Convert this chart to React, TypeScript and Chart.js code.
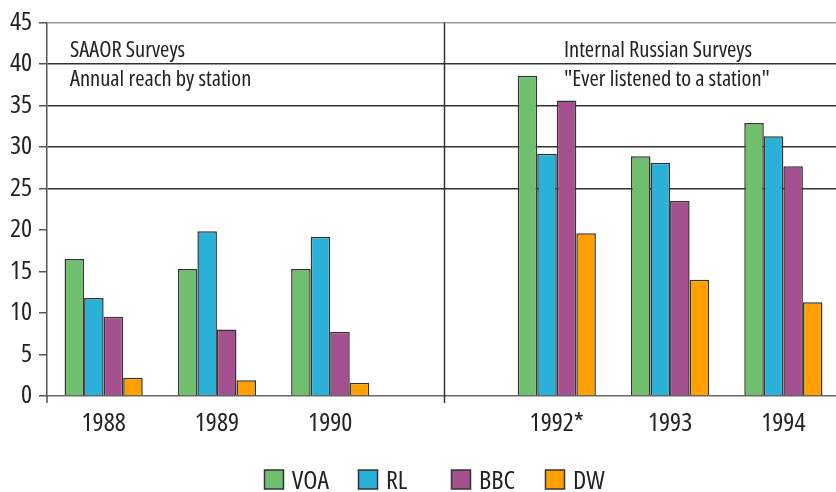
import React, { useEffect, useRef } from 'react';
import { Chart, registerables } from 'chart.js';

Chart.register(...registerables);

const categories = ['1988', '1989', '1990', '', '1992*', '1993', '1994'];
const seriesNames = ['VOA', 'RL', 'BBC', 'DW'];
const voa = [16.5, 15.3, 15.3, null, 38.6, 28.9, 32.9];
const rl = [11.8, 19.85, 19.2, null, 29.2, 28.1, 31.3];
const bbc = [9.55, 8.0, 7.75, null, 35.6, 23.5, 27.7];
const dw = [2.2, 1.9, 1.6, null, 19.6, 14.0, 11.3];
const seriesColors = ['#6FBF6F', '#2BB1D7', '#A5508E', '#FFA000'];
const yMin = 0;
const yMax = 45;
const yStep = 5;
const leftNote = ['SAAOR Surveys', 'Annual reach by station'];
const rightNote = ['Internal Russian Surveys', '"Ever listened to a station"'];

const FAMILY = "'Open Sans', 'DejaVu Sans', sans-serif";

const overlayPlugin = {
  id: 'overlay',
  afterDraw(chart: any) {
    const { ctx, chartArea, scales } = chart;
    const x = scales.x;
    ctx.save();
    // divider between the two survey groups
    const divX = Math.round(x.getPixelForValue(3)) + 0.5;
    ctx.strokeStyle = '#333';
    ctx.lineWidth = 1.5;
    ctx.beginPath();
    ctx.moveTo(divX, chartArea.top);
    ctx.lineTo(divX, chartArea.bottom + 7);
    ctx.stroke();
    // y axis extension below the x axis
    ctx.strokeStyle = '#555';
    ctx.beginPath();
    ctx.moveTo(chartArea.left, chartArea.bottom);
    ctx.lineTo(chartArea.left, chartArea.bottom + 7);
    ctx.stroke();

    // notes
    ctx.fillStyle = '#222';
    ctx.font = `condensed 22.5px ${FAMILY}`;
    ctx.textAlign = 'left';
    ctx.textBaseline = 'alphabetic';
    const base1 = chartArea.top + 34;
    const base2 = chartArea.top + 63;
    ctx.fillText(leftNote[0], chartArea.left + 23, base1);
    ctx.fillText(leftNote[1], chartArea.left + 23, base2);
    ctx.fillText(rightNote[0], divX + 119.5, base1);
    ctx.fillText(rightNote[1], divX + 119.5, base2);

    // legend
    const boxTop = 470;
    const startX = 264;
    const slot = 93.7;
    const box = 19;
    ctx.font = `condensed 26px ${FAMILY}`;
    chart.data.datasets.forEach((ds: any, i: number) => {
      const bx = Math.round(startX + i * slot) + 0.5;
      ctx.fillStyle = ds.backgroundColor;
      ctx.fillRect(bx, boxTop, box, box);
      ctx.strokeStyle = '#333';
      ctx.lineWidth = 1.5;
      ctx.strokeRect(bx, boxTop, box, box);
      ctx.fillStyle = '#222';
      ctx.fillText(ds.label, bx + 27.5, 489);
    });
    ctx.restore();
  },
};

export default function App() {
  const ref = useRef<HTMLCanvasElement>(null);
  useEffect(() => {
    document.body.style.margin = '0';
    const allData = [voa, rl, bbc, dw];
    const chart = new Chart(ref.current as HTMLCanvasElement, {
      type: 'bar',
      data: {
        labels: categories,
        datasets: seriesNames.map((name, i) => ({
          label: name,
          data: allData[i],
          backgroundColor: seriesColors[i],
          borderColor: '#333',
          borderWidth: 1.5,
          barPercentage: 1,
          categoryPercentage: 0.69,
        })),
      },
      options: {
        animation: false,
        responsive: false,
        maintainAspectRatio: false,
        layout: { padding: { top: 19, right: 0, bottom: 0, left: 0 } },
        plugins: { legend: { display: false }, tooltip: { enabled: false } },
        scales: {
          x: {
            type: 'category',
            grid: { display: false, drawTicks: false },
            border: { display: true, color: '#666', width: 1.5 },
            ticks: {
              font: { family: FAMILY, size: 26, weight: 'condensed' as any },
              color: '#222',
              padding: 12,
              maxRotation: 0,
              autoSkip: false,
            },
            afterFit: (s: any) => {
              s.height = 96;
            },
          },
          y: {
            min: yMin,
            max: yMax,
            ticks: {
              stepSize: yStep,
              font: { family: FAMILY, size: 26, weight: 'condensed' as any },
              color: '#222',
              padding: 7,
            },
            grid: {
              drawTicks: true,
              tickLength: 8,
              tickColor: '#555',
              lineWidth: 1.5,
              color: (c: any) => {
                const v = c.tick ? c.tick.value : 0;
                if (v === 45) return '#999';
                if (v >= 25 && v <= 40) return '#333';
                return 'rgba(0,0,0,0)';
              },
            },
            border: { display: true, color: '#555', width: 1.5 },
            afterFit: (s: any) => {
              s.width = 47;
            },
          },
        },
      },
      plugins: [overlayPlugin],
    });
    return () => chart.destroy();
  }, []);
  return (
    <div style={{ width: 836, height: 492, overflow: 'hidden', background: '#fff' }}>
      <canvas ref={ref} width={840} height={492} style={{ width: 840, height: 492, display: 'block' }} />
    </div>
  );
}
